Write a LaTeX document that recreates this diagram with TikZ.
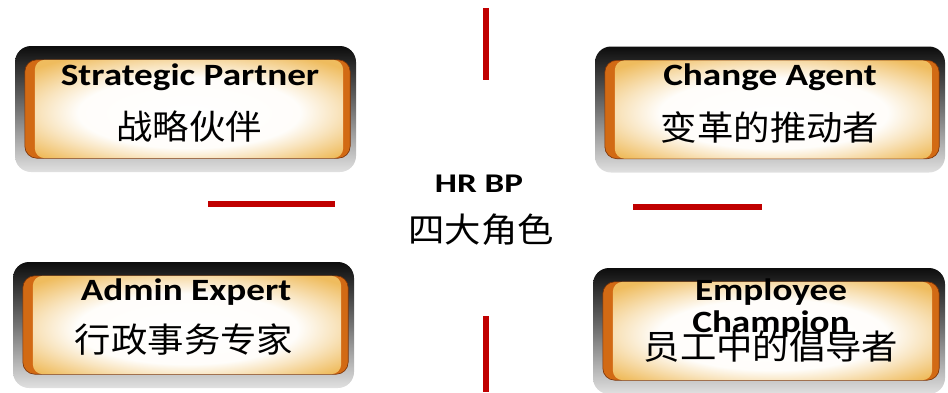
\documentclass[tikz,border=0pt]{standalone}
\usepackage{fontspec}
\usepackage{graphicx,xcolor}
\setmainfont{Carlito}
\newfontfamily\cjk{Noto Sans CJK SC}
\usetikzlibrary{calc}
\definecolor{hrred}{HTML}{C00000}
\definecolor{bandfill}{HTML}{D26A14}
\definecolor{bandedge}{HTML}{7A3206}
\definecolor{glowedge}{HTML}{EFBC5E}
\pgfdeclareradialshading{glowshade}{\pgfpoint{0bp}{-3bp}}{color(0bp)=(white);
  color(18bp)=(white!97!glowedge); color(24bp)=(white!60!glowedge);
  color(33bp)=(glowedge); color(50bp)=(glowedge)}
\newcommand{\roleEn}[1]{\scalebox{1.2}[1]{\fontsize{31}{31}\selectfont\bfseries #1}}
\newcommand{\roleZh}[1]{\scalebox{1.07}[1]{\cjk\fontsize{34}{34}\selectfont #1}}

\begin{document}
\begin{tikzpicture}[x=1pt,y=-1pt,
    shell/.style={minimum height=126pt,inner sep=0pt,rounded corners=16pt,
                  top color=black!95,bottom color=black!12,middle color=black!55},
    band/.style={fill=bandfill,draw=bandedge,line width=0.6pt,rounded corners=12pt},
    glow/.style={shading=glowshade,rounded corners=10pt},
    label/.style={inner sep=0pt,anchor=base},
    redline/.style={hrred,line width=5.5pt}]
  \useasboundingbox (0,0) rectangle (948,392);
  % the four roles
  \node[shell,minimum width=341pt] (sp) at (185.5,109) {};
  \node[shell,minimum width=350pt] (ca) at (770,109.5) {};
  \node[shell,minimum width=341pt] (ae) at (183.5,325) {};
  \node[shell,minimum width=352pt] (ec) at (769,331) {};
  \foreach \r in {sp,ca,ae,ec} {
    \path[band] ($(\r.north west)+(10,14)$) rectangle ($(\r.south east)+(-6,-14)$);
    \path[glow] ($(\r.north west)+(20,14)$) rectangle ($(\r.south east)+(-13,-14)$);
  }
  \node[label] (sp-en) at (190,85) {\roleEn{Strategic Partner}};
  \node[inner sep=0pt] (sp-zh) at (189,127) {\roleZh{战略伙伴}};
  \node[label] (ca-en) at (770,85) {\roleEn{Change Agent}};
  \node[inner sep=0pt] (ca-zh) at (770,127) {\roleZh{变革的推动者}};
  \node[label] (ae-en) at (186,300) {\roleEn{Admin Expert}};
  \node[inner sep=0pt] (ae-zh) at (184,340) {\roleZh{行政事务专家}};
  \node[label] (ec-en) at (771,300) {\roleEn{Employee}};
  \node[label] (ec-en2) at (771,332) {\roleEn{Champion}};
  \node[inner sep=0pt] (ec-zh) at (771,347) {\roleZh{员工中的倡导者}};
  % centre
  \node[label] (hr) at (479,192) {\scalebox{1.3}[1]{\fontsize{27}{27}\selectfont\bfseries HR BP}};
  \node[inner sep=0pt] (hr-zh) at (481,230) {\roleZh{四大角色}};
  % red marks
  \coordinate (top-a) at (486,8);    \coordinate (top-b) at (486,80);
  \coordinate (bot-a) at (486,316);  \coordinate (bot-b) at (486,392);
  \coordinate (lft-a) at (208,204);  \coordinate (lft-b) at (335,204);
  \coordinate (rgt-a) at (633,207);  \coordinate (rgt-b) at (762,207);
  \draw[redline] (top-a) -- (top-b);
  \draw[redline] (bot-a) -- (bot-b);
  \draw[redline] (lft-a) -- (lft-b);
  \draw[redline] (rgt-a) -- (rgt-b);
\end{tikzpicture}
\end{document}
